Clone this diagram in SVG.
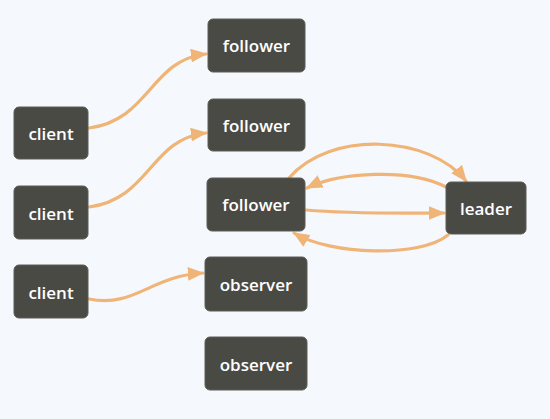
<svg xmlns="http://www.w3.org/2000/svg" width="550" height="419" viewBox="0 0 550 419">
<style>
.n rect{fill:#4a4a45;stroke:#5c5c57;stroke-width:1}
.n text{fill:#ffffff;font-family:"Open Sans","Noto Sans",sans-serif;font-size:17px;font-weight:600;text-anchor:middle;dominant-baseline:central}
.e path{fill:none;stroke:#f0b477;stroke-width:3.2;stroke-linecap:round}
</style>
<defs>
<marker id="ah" viewBox="0 0 12 10" refX="11" refY="5" markerWidth="5.2" markerHeight="4.3" orient="auto" markerUnits="strokeWidth">
<path d="M0,0 L12,5 L0,10 z" fill="#f0b477"/>
</marker>
</defs>
<rect width="550" height="419" fill="#f5f9fd"/>
<g class="e" id="connectors">
<path d="M89,128 C150,120 150,60 206,54" marker-end="url(#ah)"/>
<path d="M89,207 C150,199 150,139 206,133" marker-end="url(#ah)"/>
<path d="M89,299 C135,308 150,276 203,273" marker-end="url(#ah)"/>
<path d="M289,178 C330,130 430,135 466,181" marker-end="url(#ah)"/>
<path d="M446,187 C410,168 340,172 307,188" marker-end="url(#ah)"/>
<path d="M306,210 C350,214 400,213 444,213" marker-end="url(#ah)"/>
<path d="M448,235 C420,258 330,255 294,233" marker-end="url(#ah)"/>
</g>
<g class="n" id="follower1"><rect x="208" y="19" width="97" height="53" rx="5"/><text x="256.5" y="45.5">follower</text></g>
<g class="n" id="follower2"><rect x="208" y="99" width="97" height="52" rx="5"/><text x="256.5" y="125">follower</text></g>
<g class="n" id="follower3"><rect x="207" y="178" width="98" height="53" rx="5"/><text x="256" y="204.5">follower</text></g>
<g class="n" id="leader"><rect x="446" y="182" width="80" height="52" rx="5"/><text x="486" y="208.5">leader</text></g>
<g class="n" id="observer1"><rect x="205" y="257" width="102" height="54" rx="5"/><text x="256" y="284.5">observer</text></g>
<g class="n" id="observer2"><rect x="205" y="337" width="102" height="53" rx="5"/><text x="256" y="364">observer</text></g>
<g class="n" id="client1"><rect x="14" y="107" width="74" height="52" rx="5"/><text x="51" y="133.5">client</text></g>
<g class="n" id="client2"><rect x="14" y="186" width="74" height="53" rx="5"/><text x="51" y="213">client</text></g>
<g class="n" id="client3"><rect x="14" y="265" width="74" height="53" rx="5"/><text x="51" y="292">client</text></g>
</svg>
